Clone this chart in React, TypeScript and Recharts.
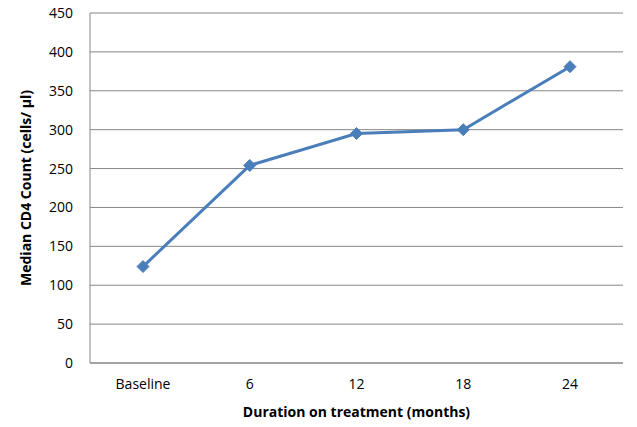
import { LineChart, Line, XAxis, YAxis, CartesianGrid } from "recharts";

const categories = ["Baseline", "6", "12", "18", "24"];
const medianCd4 = [124, 254, 295, 300, 381];
const yTicks = [0, 50, 100, 150, 200, 250, 300, 350, 400, 450];

const data = categories.map((name, i) => ({ name, value: medianCd4[i] }));

const FONT = "'Open Sans', 'Noto Sans', sans-serif";
const BLUE = "#4A7EBB";
const GRID = "#868686";

function Diamond(props: any) {
  const { cx, cy } = props;
  if (cx == null || cy == null) return null;
  const r = 6;
  return (
    <path
      d={`M${cx},${cy - r} L${cx + r},${cy} L${cx},${cy + r} L${cx - r},${cy} Z`}
      fill={BLUE}
      stroke={BLUE}
      strokeWidth={1}
    />
  );
}

function YTitle(props: any) {
  const vb = props.viewBox || {};
  const cy = (vb.y ?? 0) + (vb.height ?? 0) / 2;
  const cx = 25;
  return (
    <text
      x={cx}
      y={cy}
      transform={`rotate(-90 ${cx} ${cy})`}
      textAnchor="middle"
      dominantBaseline="central"
      fontFamily={FONT}
      fontWeight="bold"
      fontSize={14}
      fill="#000"
    >
      Median CD4 Count (cells/ µl)
    </text>
  );
}

export default function App() {
  return (
    <div style={{ position: "absolute", left: 0, top: 0, background: "#fff" }}>
      <LineChart
        width={637}
        height={427}
        data={data}
        margin={{ top: 13, right: 14, bottom: 0, left: 0 }}
      >
        <CartesianGrid vertical={false} stroke={GRID} strokeWidth={1} />
        <XAxis
          dataKey="name"
          height={64}
          padding={{ left: 53, right: 53 }}
          axisLine={{ stroke: GRID }}
          tickLine={false}
          tickMargin={10}
          tick={{ fill: "#000", fontSize: 14, fontFamily: FONT }}
          label={{
            value: "Duration on treatment (months)",
            position: "insideBottom",
            offset: 10,
            fill: "#000",
            fontSize: 14,
            fontWeight: "bold",
            fontFamily: FONT,
          }}
        />
        <YAxis
          width={90}
          domain={[0, 450]}
          ticks={yTicks}
          interval={0}
          axisLine={{ stroke: GRID }}
          tickLine={false}
          tickMargin={11}
          tick={{ fill: "#000", fontSize: 14, fontFamily: FONT }}
          label={<YTitle />}
        />
        <Line
          type="linear"
          dataKey="value"
          stroke={BLUE}
          strokeWidth={3}
          dot={<Diamond />}
          activeDot={false}
          isAnimationActive={false}
        />
      </LineChart>
    </div>
  );
}
